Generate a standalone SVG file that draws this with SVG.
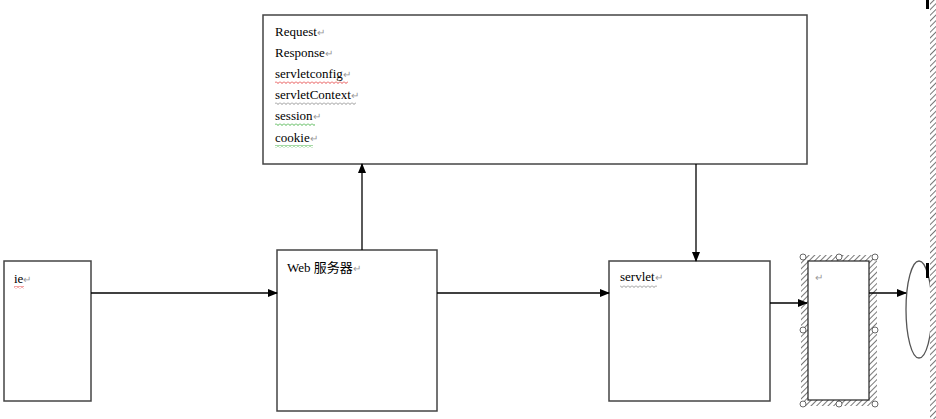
<svg xmlns="http://www.w3.org/2000/svg" width="936" height="419" viewBox="0 0 936 419">
<defs>
<style>
.box{fill:#fff;stroke:#444;stroke-width:1.5}
.t{font-family:"Liberation Serif","Noto Sans CJK SC",serif;font-size:13px;fill:#000}
.pm{fill:#999;font-size:10px}
.con{stroke:#000;stroke-width:1.3;fill:none}
</style>
<marker id="ah" markerWidth="10" markerHeight="8" refX="9" refY="4" orient="auto" markerUnits="userSpaceOnUse">
<path d="M0,0 L10,4 L0,8 Z" fill="#000"/>
</marker>
<pattern id="hatch" width="4" height="4" patternUnits="userSpaceOnUse" patternTransform="rotate(45)">
<rect width="4" height="4" fill="#fff"/>
<line x1="0" y1="0" x2="0" y2="4" stroke="#555" stroke-width="1.6"/>
</pattern>
<pattern id="wr" width="4" height="3" patternUnits="userSpaceOnUse">
<polyline points="0,0.5 2,2.5 4,0.5" fill="none" stroke="#e02020" stroke-width="0.8"/>
</pattern>
<pattern id="wg" width="4" height="3" patternUnits="userSpaceOnUse">
<polyline points="0,0.5 2,2.5 4,0.5" fill="none" stroke="#20a020" stroke-width="0.8"/>
</pattern>
<pattern id="wk" width="4" height="3" patternUnits="userSpaceOnUse">
<polyline points="0,0.5 2,2.5 4,0.5" fill="none" stroke="#777" stroke-width="0.8"/>
</pattern>
</defs>
<rect width="936" height="419" fill="#fff"/>

<g id="objects">
<rect class="box" x="263" y="15" width="544" height="149"/>
<text class="t" x="275" y="36">Request<tspan class="pm">↵</tspan></text>
<text class="t" x="275" y="57">Response<tspan class="pm">↵</tspan></text>
<text class="t" x="275" y="78">servletconfig<tspan class="pm">↵</tspan></text>
<text class="t" x="275" y="99">servletContext<tspan class="pm">↵</tspan></text>
<text class="t" x="275" y="120">session<tspan class="pm">↵</tspan></text>
<text class="t" x="275" y="142">cookie<tspan class="pm">↵</tspan></text>
<rect x="275" y="81" width="73" height="3" fill="url(#wr)"/>
<rect x="275" y="102" width="81" height="3" fill="url(#wk)"/>
<rect x="275" y="123" width="40" height="3" fill="url(#wg)"/>
<rect x="275" y="145" width="38" height="3" fill="url(#wg)"/>
</g>

<g id="ie">
<rect class="box" x="4" y="261" width="87" height="140"/>
<text class="t" x="14" y="283">ie<tspan class="pm">↵</tspan></text>
<rect x="14" y="286" width="10" height="3" fill="url(#wr)"/>
</g>

<g id="web">
<rect class="box" x="277" y="250" width="160" height="161"/>
<text class="t" x="287" y="272">Web 服务器<tspan class="pm">↵</tspan></text>
</g>

<g id="servlet">
<rect class="box" x="609" y="261" width="161" height="140"/>
<text class="t" x="620" y="281">servlet<tspan class="pm">↵</tspan></text>
<rect x="620" y="285" width="37" height="3" fill="url(#wk)"/>
</g>

<g id="selected">
<rect x="801" y="255" width="76" height="151" fill="url(#hatch)"/>
<rect x="808" y="261" width="61" height="139" fill="#fff" stroke="#222" stroke-width="1.2"/>
<text class="t pm" x="815" y="281">↵</text>
<g fill="#fff" stroke="#444" stroke-width="0.8">
<circle cx="803" cy="257" r="3"/>
<circle cx="839" cy="257" r="3"/>
<circle cx="875" cy="257" r="3"/>
<circle cx="803" cy="330" r="3"/>
<circle cx="875" cy="330" r="3"/>
<circle cx="803" cy="404" r="3"/>
<circle cx="839" cy="404" r="3"/>
<circle cx="875" cy="404" r="3"/>
</g>
</g>

<g id="ellipse">
<ellipse cx="919" cy="309.5" rx="13" ry="48.5" fill="#fff" stroke="#555" stroke-width="1.3"/>
</g>

<g id="edge">
<rect x="930" y="0" width="6" height="419" fill="url(#hatch)"/>
<rect x="926" y="0" width="3" height="9" fill="#000"/>
<rect x="926" y="263" width="3" height="15" fill="#000"/>
</g>

<g id="connectors">
<line class="con" x1="91" y1="293" x2="277" y2="293" marker-end="url(#ah)"/>
<line class="con" x1="437" y1="293" x2="609" y2="293" marker-end="url(#ah)"/>
<line class="con" x1="362" y1="250" x2="362" y2="164" marker-end="url(#ah)"/>
<line class="con" x1="696" y1="164" x2="696" y2="261" marker-end="url(#ah)"/>
<line class="con" x1="770" y1="303" x2="807" y2="303" marker-end="url(#ah)"/>
<line class="con" x1="869" y1="293" x2="906" y2="293" marker-end="url(#ah)"/>
</g>
</svg>
